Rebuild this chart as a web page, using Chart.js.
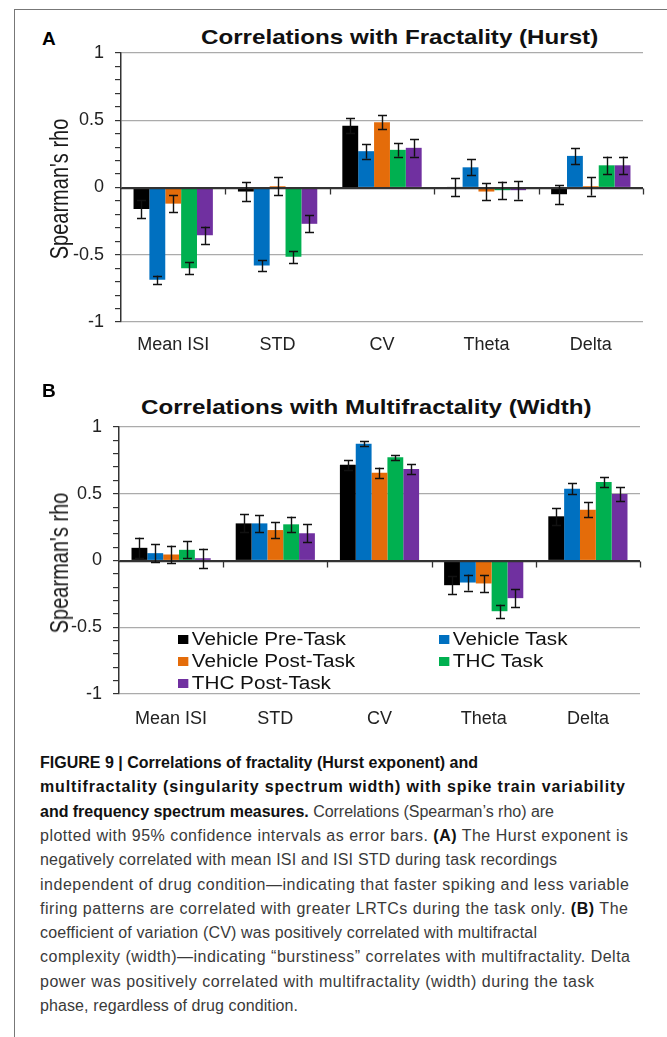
<!DOCTYPE html>
<html><head><meta charset="utf-8">
<script src="https://cdn.jsdelivr.net/npm/chart.js@4.4.1/dist/chart.umd.min.js"></script>
<style>
html,body{margin:0;padding:0;background:#fff;}
body{width:667px;height:1037px;position:relative;overflow:hidden;font-family:"Liberation Sans",Arial,sans-serif;}
.frameL{position:absolute;left:14px;top:9px;width:1px;height:1028px;background:#777;}
.frameT{position:absolute;left:14px;top:9px;width:653px;height:1px;background:#777;}
.abs{position:absolute;white-space:nowrap;line-height:24px;}
.letter{font-weight:bold;font-size:19px;color:#000;}
.title{font-weight:bold;font-size:21px;color:#111;transform:scaleX(1.15);transform-origin:0 0;}
.ytitle{position:absolute;white-space:nowrap;font-size:26px;line-height:30px;color:#1a1a1a;transform:translate(-50%,-50%) rotate(-90deg) scaleX(0.77);}
canvas{position:absolute;left:0;}
.leg{position:absolute;font-size:18px;color:#111;white-space:nowrap;height:22px;display:flex;align-items:center;transform:scaleX(1.15);transform-origin:0 0;}
.leg i{display:inline-block;width:9px;height:9px;margin-right:3px;}
.cap{position:absolute;left:40px;font-size:16px;color:#3a3a3a;white-space:nowrap;line-height:24px;height:24px;}
.cap b{color:#111;}
</style>
</head><body>
<div class="frameL"></div><div class="frameT"></div>
<div class="abs letter" style="left:42px;top:27px;">A</div>
<div class="abs title" style="left:201px;top:25px;">Correlations with Fractality (Hurst)</div>
<canvas id="chartA" width="667" height="365" style="top:0px;"></canvas>
<div class="ytitle" style="left:59px;top:189px;">Spearman's rho</div>
<div class="abs letter" style="left:42px;top:379px;">B</div>
<div class="abs title" style="left:141px;top:395px;">Correlations with Multifractality (Width)</div>
<canvas id="chartB" width="667" height="370" style="top:370px;"></canvas>
<div class="ytitle" style="left:59px;top:563px;">Spearman's rho</div>
<div id="legend"></div>
<div id="caption"></div>
<script>
// ---- data ----
const categories = ['Mean ISI', 'STD', 'CV', 'Theta', 'Delta'];
const seriesNames = ['Vehicle Pre-Task', 'Vehicle Task', 'Vehicle Post-Task', 'THC Task', 'THC Post-Task'];
const seriesColors = ['#000000', '#0070C0', '#E46C0A', '#00B050', '#7030A0'];
const yTickValues = [-1, -0.5, 0, 0.5, 1];

// Panel A: Correlations with Fractality (Hurst)
const hurstVehPre  = [-0.16, -0.03, 0.46, 0.005, -0.05];
const hurstVehTask = [-0.685, -0.58, 0.27, 0.15, 0.235];
const hurstVehPost = [-0.12, 0.01, 0.485, -0.03, 0.01];
const hurstThcTask = [-0.60, -0.515, 0.28, -0.02, 0.165];
const hurstThcPost = [-0.355, -0.27, 0.295, -0.02, 0.165];
// 95% CI half-widths (error bars)
const hurstVehPreErr  = [0.065, 0.07, 0.055, 0.068, 0.07];
const hurstVehTaskErr = [0.03, 0.04, 0.055, 0.06, 0.06];
const hurstVehPostErr = [0.065, 0.065, 0.052, 0.066, 0.07];
const hurstThcTaskErr = [0.045, 0.045, 0.05, 0.064, 0.065];
const hurstThcPostErr = [0.065, 0.063, 0.065, 0.07, 0.065];

// Panel B: Correlations with Multifractality (Width)
const widthVehPre  = [0.095, 0.278, 0.718, -0.185, 0.331];
const widthVehTask = [0.055, 0.278, 0.875, -0.165, 0.538];
const widthVehPost = [0.045, 0.228, 0.658, -0.172, 0.38];
const widthThcTask = [0.08, 0.271, 0.773, -0.38, 0.588];
const widthThcPost = [0.017, 0.204, 0.685, -0.282, 0.498];
const widthVehPreErr  = [0.077, 0.068, 0.037, 0.067, 0.065];
const widthVehTaskErr = [0.065, 0.063, 0.018, 0.06, 0.04];
const widthVehPostErr = [0.067, 0.06, 0.038, 0.065, 0.057];
const widthThcTaskErr = [0.064, 0.058, 0.02, 0.05, 0.04];
const widthThcPostErr = [0.072, 0.068, 0.04, 0.068, 0.055];

const captionLines = [
  '<b>FIGURE 9 | Correlations of fractality (Hurst exponent) and</b>',
  '<b>multifractality (singularity spectrum width) with spike train variability</b>',
  '<b>and frequency spectrum measures.</b> Correlations (Spearman\u2019s rho) are',
  'plotted with 95% confidence intervals as error bars. <b>(A)</b> The Hurst exponent is',
  'negatively correlated with mean ISI and ISI STD during task recordings',
  'independent of drug condition\u2014indicating that faster spiking and less variable',
  'firing patterns are correlated with greater LRTCs during the task only. <b>(B)</b> The',
  'coefficient of variation (CV) was positively correlated with multifractal',
  'complexity (width)\u2014indicating \u201cburstiness\u201d correlates with multifractality. Delta',
  'power was positively correlated with multifractality (width) during the task',
  'phase, regardless of drug condition.'
];
// layout: right edge (px) of each caption line in the figure
const captionRightEdges = [478, 625, 554, 628, 557, 629, 628, 537, 630, 594, 298];

// ---- plugins ----
const errorBarPlugin = {
  id: 'errorBarPlugin',
  afterDatasetsDraw(chart) {
    const ctx = chart.ctx;
    const y = chart.scales.y, x = chart.scales.x;
    const area = chart.chartArea;
    const y0 = Math.round(y.getPixelForValue(0)) + 0.5;
    ctx.save();
    ctx.strokeStyle = '#333';
    ctx.lineWidth = 1.3;
    ctx.beginPath();
    ctx.moveTo(area.left, y0); ctx.lineTo(area.right, y0);
    const half = (x.getPixelForValue(1) - x.getPixelForValue(0)) / 2;
    for (let i = 0; i < categories.length; i++) {
      const bx = Math.round(x.getPixelForValue(i) + half) + 0.5;
      ctx.moveTo(bx, y0); ctx.lineTo(bx, y0 + 6);
    }
    ctx.stroke();
    ctx.strokeStyle = '#111';
    ctx.lineWidth = 1.4;
    chart.data.datasets.forEach((ds, di) => {
      const meta = chart.getDatasetMeta(di);
      meta.data.forEach((bar, j) => {
        const v = ds.data[j], e = ds.errors[j];
        const yt = y.getPixelForValue(v + e), yb = y.getPixelForValue(v - e);
        const cx = Math.round(bar.x) + 0.5, cw = 4.5;
        ctx.beginPath();
        ctx.moveTo(cx, yt); ctx.lineTo(cx, yb);
        ctx.moveTo(cx - cw, Math.round(yt) + 0.5); ctx.lineTo(cx + cw, Math.round(yt) + 0.5);
        ctx.moveTo(cx - cw, Math.round(yb) + 0.5); ctx.lineTo(cx + cw, Math.round(yb) + 0.5);
        ctx.stroke();
      });
    });
    ctx.restore();
  }
};

function makeChart(id, seriesValues, seriesErrors, geom) {
  const datasets = seriesValues.map((vals, i) => ({
    label: seriesNames[i],
    data: vals,
    errors: seriesErrors[i],
    backgroundColor: seriesColors[i],
    borderWidth: 0,
    categoryPercentage: 0.76,
    barPercentage: 1.0
  }));
  return new Chart(document.getElementById(id), {
    type: 'bar',
    data: { labels: categories, datasets },
    options: {
      responsive: false,
      animation: false,
      devicePixelRatio: 1,
      layout: { padding: { top: geom.top, right: geom.right, bottom: 0, left: 0 } },
      plugins: { legend: { display: false }, tooltip: { enabled: false }, title: { display: false } },
      scales: {
        x: {
          grid: { display: false, drawTicks: false },
          border: { display: false },
          ticks: { font: { size: 18, family: 'Liberation Sans' }, color: '#222', padding: geom.xPad, maxRotation: 0 },
          afterFit: s => { s.height = geom.xH; }
        },
        y: {
          min: -1, max: 1,
          afterFit: s => { s.width = geom.yW; },
          afterBuildTicks: s => {
            const t = []; for (let k = -10; k <= 10; k++) t.push({ value: k / 10 }); s.ticks = t; },
          ticks: {
            autoSkip: false,
            font: { size: 18, family: 'Liberation Sans' }, color: '#222', padding: 11,
            callback: v => { const r = Math.round(v * 10);
              return yTickValues.some(t => Math.round(t * 10) === r) ? String(r / 10) : ''; }
          },
          grid: {
            color: c => { const r = Math.round(c.tick.value * 10);
              if (r === 0) return '#333';
              return r % 5 === 0 ? '#ababab' : 'rgba(0,0,0,0)'; },
            tickColor: '#333', tickLength: 6, lineWidth: 1.2
          },
          border: { display: true, color: '#333', width: 1.5 },
          title: { display: false }
        }
      }
    },
    plugins: [errorBarPlugin]
  });
}

makeChart('chartA',
  [hurstVehPre, hurstVehTask, hurstVehPost, hurstThcTask, hurstThcPost],
  [hurstVehPreErr, hurstVehTaskErr, hurstVehPostErr, hurstThcTaskErr, hurstThcPostErr],
  { top: 53, right: 24, yW: 121, xH: 43, xPad: 12 });
makeChart('chartB',
  [widthVehPre, widthVehTask, widthVehPost, widthThcTask, widthThcPost],
  [widthVehPreErr, widthVehTaskErr, widthVehPostErr, widthThcTaskErr, widthThcPostErr],
  { top: 57, right: 27, yW: 119, xH: 46, xPad: 14 });

// legend (inside panel B plot area)
const legPos = [[178, 628], [439, 628], [178, 650], [439, 650], [178, 672]];
const legEl = document.getElementById('legend');
seriesNames.forEach((n, i) => {
  const d = document.createElement('div');
  d.className = 'leg';
  d.style.left = legPos[i][0] + 'px'; d.style.top = legPos[i][1] + 'px';
  d.innerHTML = '<i style="background:' + seriesColors[i] + '"></i>' + n;
  legEl.appendChild(d);
});
// caption, each line spaced to its width in the figure
const capEl = document.getElementById('caption');
captionLines.forEach((l, i) => {
  const d = document.createElement('div');
  d.className = 'cap';
  d.style.top = (751 + i * 24.3) + 'px';
  d.innerHTML = l;
  capEl.appendChild(d);
  const w = d.getBoundingClientRect().width;
  const n = d.textContent.length;
  const target = captionRightEdges[i] - 40;
  d.style.letterSpacing = ((target - w) / Math.max(1, n - 1)).toFixed(3) + 'px';
});
</script>
</body></html>
